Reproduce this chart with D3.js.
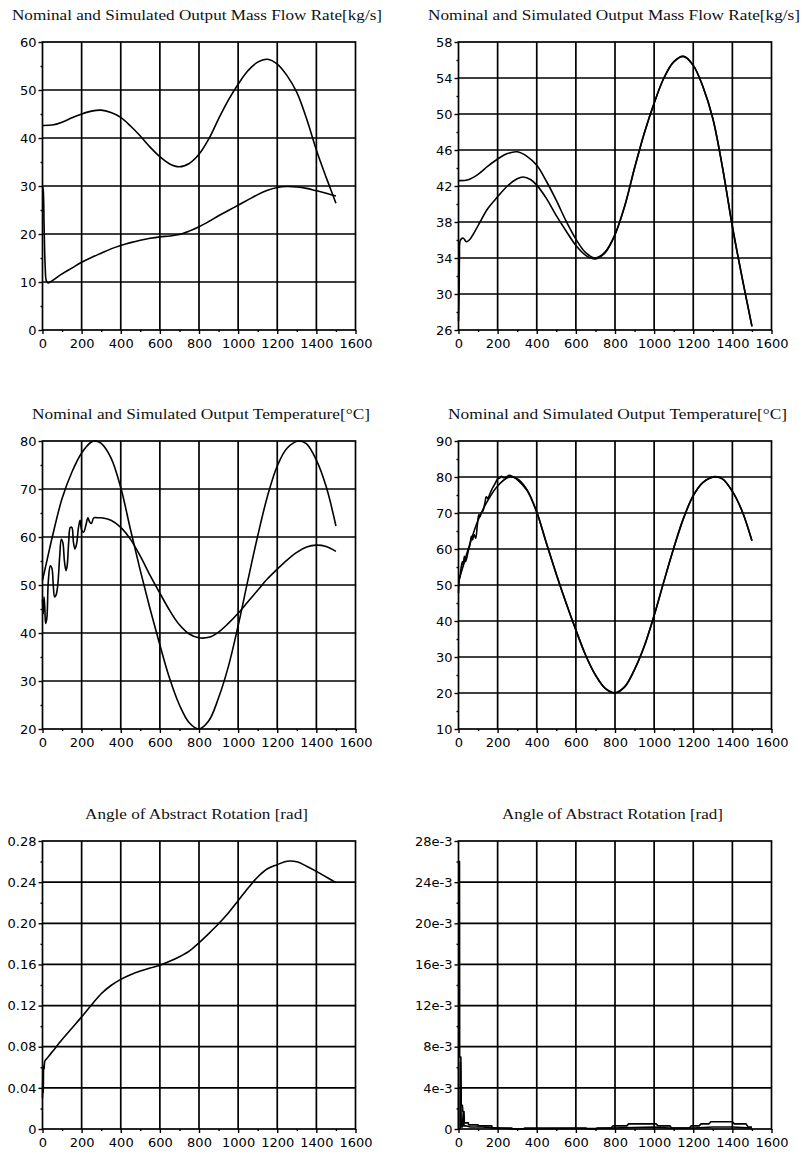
<!DOCTYPE html>
<html>
<head>
<meta charset="utf-8">
<script src="https://cdn.jsdelivr.net/npm/d3@7/dist/d3.min.js"></script>
<style>
  body { margin: 0; background: #fff; }
  .title { font-family: "Liberation Serif", "DejaVu Serif", serif; font-size: 15px; fill: #111; }
  .grid line, .frame { stroke: #000; stroke-width: 1.7; fill: none; }
  .curve { fill: none; stroke: #000; stroke-width: 1.6; stroke-linejoin: round; }
</style>
</head>
<body>
<div id="vis"></div>
<script>

// time axis (s), shared by all six plots
var xTicks = [0, 200, 400, 600, 800, 1000, 1200, 1400, 1600];

var massTicksA = [0, 10, 20, 30, 40, 50, 60];
var massTicksB = [26, 30, 34, 38, 42, 46, 50, 54, 58];
var tempTicksA = [20, 30, 40, 50, 60, 70, 80];
var tempTicksB = [10, 20, 30, 40, 50, 60, 70, 80, 90];
var angleTicksA = [0, 0.04, 0.08, 0.12, 0.16, 0.20, 0.24, 0.28];
var angleLabelsA = ['0', '0.04', '0.08', '0.12', '0.16', '0.20', '0.24', '0.28'];
var angleTicksB = [0, 4, 8, 12, 16, 20, 24, 28];
var angleLabelsB = ['0', '4e-3', '8e-3', '12e-3', '16e-3', '20e-3', '24e-3', '28e-3'];

// [time, kg/s]
var massNominal = [[0,42.6],[50,42.7],[100,43.3],[150,44.2],[200,45],[250,45.6],[300,45.8],[350,45.3],[400,44.3],[450,42.5],[500,40.4],[550,38.1],[600,36.1],[650,34.6],[700,34],[750,34.7],[800,36.6],[850,39.8],[900,44],[950,47.9],[1000,51.2],[1050,54],[1100,55.8],[1150,56.4],[1200,55.4],[1250,53],[1300,49.5],[1350,44],[1400,37.5],[1450,31.8],[1500,26.4]];
var massSimA = [[0,30],[4,29],[8,22],[14,13],[20,10.2],[30,9.8],[50,10.3],[100,11.7],[150,12.9],[200,14.1],[250,15.1],[300,16],[350,16.9],[400,17.6],[450,18.2],[500,18.7],[550,19.1],[600,19.4],[650,19.6],[700,19.9],[750,20.6],[800,21.5],[850,22.6],[900,23.8],[950,24.9],[1000,26],[1050,27.1],[1100,28.2],[1150,29.1],[1200,29.7],[1250,29.9],[1300,29.8],[1350,29.5],[1400,29],[1450,28.5],[1500,27.9]];
var massSimB = [[0,27],[3,30],[5,34],[10,36],[25,36.2],[40,35.8],[55,36],[90,37.2],[110,38],[150,39.5],[200,40.8],[250,42],[300,42.8],[330,43],[370,42.7],[400,42.1],[450,40.6],[500,38.7],[550,37],[600,35.4],[650,34.3],[700,33.9],[750,34.6],[800,36.6],[850,39.8],[900,44],[950,47.9],[1000,51.2],[1050,54],[1100,55.8],[1150,56.4],[1200,55.4],[1250,53],[1300,49.5],[1350,44],[1400,37.5],[1450,31.8],[1500,26.4]];

// [time, degC]
var tempNominal = [[0,51],[25,55.5],[50,60],[100,68],[150,73.5],[200,77.5],[250,79.8],[270,80],[300,79.5],[350,76.5],[400,70.3],[450,61.5],[500,53],[550,45],[600,37.5],[650,30.5],[700,25],[750,21.3],[800,20],[850,21.7],[900,26.5],[950,33],[1000,41.5],[1050,51],[1100,60.2],[1150,68.5],[1200,74.8],[1250,78.5],[1310,80],[1350,79.4],[1400,76],[1450,70.5],[1500,62.3]];
var tempSimA = [[0,47],[4,44],[8,47.5],[12,45],[16,42],[22,43],[30,51],[40,54],[48,53.5],[55,50],[62,47.5],[70,48],[78,50],[88,56],[96,59.5],[104,58.8],[112,55],[120,53],[126,54],[134,59],[142,62],[150,62],[158,59],[166,57.5],[174,58.5],[184,62],[192,63.5],[200,61.5],[210,61],[222,62.5],[232,64],[240,63.2],[250,62.8],[262,64],[280,64],[300,64],[350,63.5],[400,62],[450,59.5],[500,56],[550,52],[600,48.3],[650,44.7],[700,41.7],[750,39.8],[800,39],[850,39.1],[900,40.2],[950,42],[1000,44.1],[1050,46.5],[1100,48.9],[1150,51.3],[1200,53.3],[1250,55.2],[1300,56.8],[1350,57.9],[1400,58.3],[1450,58],[1500,57]];
var tempSimB = [[0,47.8],[4,51.5],[8,52.5],[14,55],[20,56.5],[24,55.5],[30,58],[36,56.5],[42,57.5],[50,59.5],[58,61],[66,63.5],[72,62.5],[80,64],[88,63],[96,66.5],[104,69.5],[110,69],[116,70],[124,70.5],[134,72.5],[142,74.5],[150,74],[158,75],[170,76.5],[180,77.5],[190,78.5],[200,79.5],[210,79.7],[220,80.2],[230,79.8],[245,80],[260,80.5],[280,80],[300,79.3],[350,76.3],[400,70.2],[450,61.5],[500,53],[550,45],[600,37.5],[650,30.5],[700,25],[750,21.3],[800,20.1],[850,21.8],[900,26.6],[950,33.1],[1000,41.5],[1050,51],[1100,60.2],[1150,68.5],[1200,74.8],[1250,78.5],[1310,80.1],[1350,79.5],[1400,76],[1450,70.5],[1500,62.3]];

// [time, rad]
var angleSim = [[0,0.03],[2,0.06],[4,0.035],[6,0.062],[8,0.058],[12,0.066],[20,0.068],[50,0.075],[100,0.087],[150,0.098],[200,0.109],[250,0.1205],[300,0.1315],[350,0.1395],[400,0.1455],[450,0.150],[500,0.1535],[550,0.1565],[600,0.1592],[650,0.163],[700,0.1675],[750,0.173],[800,0.181],[850,0.19],[900,0.1995],[950,0.21],[1000,0.222],[1050,0.234],[1100,0.245],[1150,0.253],[1200,0.257],[1250,0.2603],[1300,0.2598],[1350,0.2555],[1400,0.2505],[1450,0.245],[1500,0.2395]];
// [time, 1e-3 rad]
var angleErrUpper = [[0,0],[2,26],[5,26],[6,7],[12,7],[14,2.3],[20,2.3],[22,1.7],[28,1.7],[30,0.6],[50,0.6],[52,0.4],[100,0.4],[102,0.3],[170,0.3],[172,0.1],[270,0.1],[280,0],[330,0],[340,0.1],[650,0.1],[660,0],[700,0],[710,0.1],[780,0.1],[790,0.3],[860,0.3],[870,0.5],[1010,0.5],[1020,0.3],[1080,0.3],[1090,0.1],[1180,0.1],[1190,0.3],[1230,0.3],[1240,0.5],[1280,0.5],[1290,0.7],[1400,0.7],[1410,0.5],[1470,0.5],[1480,0.2],[1500,0.2]];
var angleErrLower = [[0,0],[8,0],[10,6.5],[14,0.2],[20,0.2],[24,1.6],[28,0.3],[40,0.3],[60,0.2],[120,0.2],[200,0.1],[290,0],[600,0.05],[700,0.05],[780,0.1],[1000,0.2],[1080,0.1],[1200,0.1],[1300,0.2],[1400,0.2],[1500,0.1]];

var width = 802;
var height = 1157;

var svg = d3.select('#vis').append('svg')
  .attr('width', width)
  .attr('height', height);

function midpoints(t) {
  return d3.pairs(t).map(function(p) { return (p[0] + p[1]) / 2; });
}

function drawPanel(p) {
  var x = d3.scaleLinear().domain([0, 1600]).range([p.left, p.left + 313]);
  var y = d3.scaleLinear()
    .domain([p.ticks[0], p.ticks[p.ticks.length - 1]])
    .range([p.top + 288, p.top]);
  var bottom = p.top + 288;

  var g = svg.append('g');

  g.append('text')
    .attr('class', 'title')
    .attr('x', p.title[1])
    .attr('y', p.title[3])
    .attr('textLength', p.title[2] - p.title[1])
    .attr('lengthAdjust', 'spacingAndGlyphs')
    .text(p.title[0]);

  var grid = g.append('g').attr('class', 'grid');
  grid.selectAll('.vx').data(xTicks.slice(1, -1)).enter().append('line')
    .attr('x1', x).attr('x2', x)
    .attr('y1', p.top).attr('y2', bottom);
  grid.selectAll('.hy').data(p.ticks.slice(1, -1)).enter().append('line')
    .attr('y1', y).attr('y2', y)
    .attr('x1', p.left).attr('x2', p.left + 313);

  // ticks + labels
  var xAxis = d3.axisBottom(x).tickValues(xTicks).tickSize(4).tickSizeOuter(0).tickPadding(5)
    .tickFormat(d3.format('d'));
  var xMinor = d3.axisBottom(x).tickValues(midpoints(xTicks)).tickSize(2).tickFormat('');
  var yAxis = d3.axisLeft(y).tickValues(p.ticks).tickSize(4).tickSizeOuter(0).tickPadding(2)
    .tickFormat(function(d, i) { return p.labels ? p.labels[i] : d; });
  var yMinor = d3.axisLeft(y).tickValues(midpoints(p.ticks)).tickSize(2).tickFormat('');

  [xAxis, xMinor].forEach(function(a) {
    g.append('g').attr('transform', 'translate(0,' + bottom + ')').call(a);
  });
  [yAxis, yMinor].forEach(function(a) {
    g.append('g').attr('transform', 'translate(' + p.left + ',0)').call(a);
  });
  g.selectAll('.domain').remove();
  g.selectAll('.tick line').attr('stroke', '#000').attr('stroke-width', 1.4);
  g.selectAll('.tick text')
    .attr('fill', '#000')
    .attr('font-family', 'DejaVu Sans, sans-serif')
    .attr('font-size', 13);

  g.append('rect')
    .attr('class', 'frame')
    .attr('x', p.left).attr('y', p.top)
    .attr('width', 313).attr('height', 288);

  var line = d3.line()
    .curve(p.curve || d3.curveCatmullRom.alpha(0.5))
    .x(function(d) { return x(d[0]); })
    .y(function(d) { return y(d[1]); });

  g.selectAll('.curve').data(p.series).enter().append('path')
    .attr('class', 'curve')
    .attr('d', line);
}

var panels = [
  { left: 42.5, top: 42, ticks: massTicksA, series: [massNominal, massSimA],
    title: ['Nominal and Simulated Output Mass Flow Rate[kg/s]', 12, 382, 20] },
  { left: 458.5, top: 42, ticks: massTicksB, series: [massNominal, massSimB],
    title: ['Nominal and Simulated Output Mass Flow Rate[kg/s]', 428, 800, 20] },
  { left: 42.5, top: 441, ticks: tempTicksA, series: [tempNominal, tempSimA],
    title: ['Nominal and Simulated Output Temperature[°C]', 32, 370, 419] },
  { left: 458.5, top: 441, ticks: tempTicksB, series: [tempNominal, tempSimB],
    title: ['Nominal and Simulated Output Temperature[°C]', 448, 787, 419] },
  { left: 42.5, top: 841, ticks: angleTicksA, labels: angleLabelsA, series: [angleSim],
    title: ['Angle of Abstract Rotation [rad]', 85, 308, 819] },
  { left: 458.5, top: 841, ticks: angleTicksB, labels: angleLabelsB, series: [angleErrUpper, angleErrLower],
    curve: d3.curveLinear,
    title: ['Angle of Abstract Rotation [rad]', 502, 723, 819] }
];

panels.forEach(drawPanel);

</script>
</body>
</html>
